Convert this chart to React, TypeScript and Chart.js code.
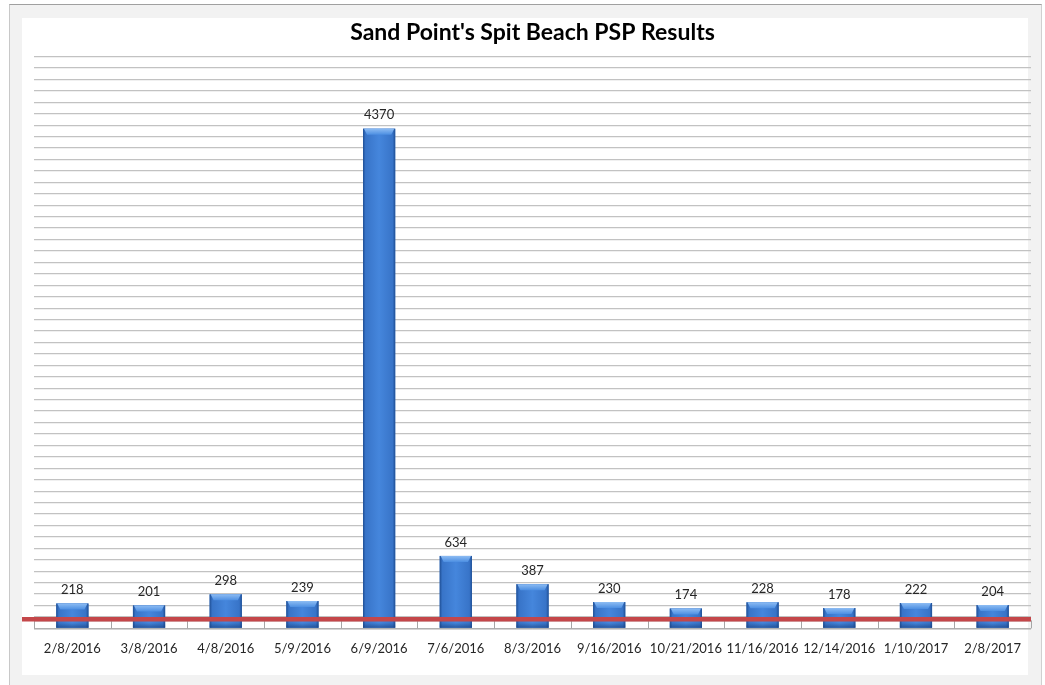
import { useEffect, useRef } from 'react';
import { Chart, registerables } from 'chart.js';

Chart.register(...registerables);

const TITLE = "Sand Point's Spit Beach PSP Results";
const DATES = [
  '2/8/2016', '3/8/2016', '4/8/2016', '5/9/2016', '6/9/2016', '7/6/2016', '8/3/2016',
  '9/16/2016', '10/21/2016', '11/16/2016', '12/14/2016', '1/10/2017', '2/8/2017',
];
const PSP = [218, 201, 298, 239, 4370, 634, 387, 230, 174, 228, 178, 222, 204];
const LIMIT = 80;
const Y_MAX = 5000;
const Y_STEP = 100;

const FONT = 'Lato, "Open Sans", sans-serif';

const floorPlugin = {
  id: 'floor',
  beforeDatasetsDraw(chart: any) {
    const { ctx, chartArea, scales } = chart;
    const base = scales.y.getPixelForValue(0);
    const top = base - 8;
    const n = DATES.length;
    const step = scales.x.getPixelForValue(1) - scales.x.getPixelForValue(0);
    ctx.save();
    ctx.strokeStyle = '#a6a6a6';
    ctx.lineWidth = 1;
    ctx.beginPath();
    ctx.moveTo(chartArea.left, top + 0.5);
    ctx.lineTo(chartArea.right, top + 0.5);
    ctx.moveTo(chartArea.left, base + 0.5);
    ctx.lineTo(chartArea.right, base + 0.5);
    for (let i = 0; i <= n; i++) {
      const xp = i < n ? scales.x.getPixelForValue(i) - step / 2 : chartArea.right;
      const xr = Math.round(xp) + 0.5;
      ctx.moveTo(xr, top);
      ctx.lineTo(xr, base);
    }
    ctx.stroke();
    ctx.restore();
  },
};

const barStylePlugin = {
  id: 'barStyle',
  afterDatasetsDraw(chart: any) {
    const { ctx, scales, chartArea } = chart;
    const meta = chart.getDatasetMeta(0);
    ctx.save();
    meta.data.forEach((el: any) => {
      const { x, y, base, width } = el.getProps(['x', 'y', 'base', 'width'], true);
      const l = x - width / 2;
      const r = x + width / 2;
      const h = base - y;
      const g = ctx.createLinearGradient(l, 0, r, 0);
      g.addColorStop(0, '#1f4f95');
      g.addColorStop(0.08, '#3874c8');
      g.addColorStop(0.5, '#4586dc');
      g.addColorStop(0.92, '#3874c8');
      g.addColorStop(1, '#1f4f95');
      ctx.fillStyle = g;
      ctx.fillRect(l, y, width, h);
      const bev = Math.min(6, h / 3);
      const tg = ctx.createLinearGradient(0, y, 0, y + bev);
      tg.addColorStop(0, '#8dbcf3');
      tg.addColorStop(1, '#4d8fe2');
      ctx.fillStyle = tg;
      ctx.beginPath();
      ctx.moveTo(l + 1, y);
      ctx.lineTo(r - 1, y);
      ctx.lineTo(r - 4, y + bev);
      ctx.lineTo(l + 4, y + bev);
      ctx.closePath();
      ctx.fill();
      const bg = ctx.createLinearGradient(0, base - 5, 0, base);
      bg.addColorStop(0, 'rgba(25,60,120,0)');
      bg.addColorStop(1, 'rgba(25,60,120,0.6)');
      ctx.fillStyle = bg;
      ctx.fillRect(l, base - 5, width, 5);
    });

    // regulatory limit line
    const ly = scales.y.getPixelForValue(LIMIT);
    ctx.strokeStyle = '#c4474a';
    ctx.lineWidth = 4.5;
    ctx.beginPath();
    ctx.moveTo(chartArea.left - 12, ly);
    ctx.lineTo(chartArea.right, ly);
    ctx.stroke();

    // value labels
    ctx.fillStyle = '#262626';
    ctx.font = `13px ${FONT}`;
    ctx.textAlign = 'center';
    ctx.textBaseline = 'bottom';
    meta.data.forEach((el: any, i: number) => {
      const { x, y } = el.getProps(['x', 'y'], true);
      ctx.fillText(String(PSP[i]), x, y - 7);
    });
    ctx.restore();
  },
};

export default function App() {
  const ref = useRef<HTMLCanvasElement | null>(null);

  useEffect(() => {
    if (!ref.current) return;
    const chart = new Chart(ref.current, {
      type: 'bar',
      data: {
        labels: DATES,
        datasets: [
          {
            label: 'PSP',
            data: PSP,
            backgroundColor: '#3a78cc',
            borderWidth: 0,
            categoryPercentage: 1,
            barPercentage: 0.42,
          },
        ],
      },
      options: {
        animation: false,
        responsive: false,
        maintainAspectRatio: false,
        devicePixelRatio: 1,
        layout: { padding: { left: 34, right: 14, top: 19, bottom: 15 } },
        plugins: {
          legend: { display: false },
          tooltip: { enabled: false },
          title: {
            display: true,
            text: TITLE,
            color: '#000000',
            font: { family: FONT, size: 23, weight: 'bold' },
            padding: { top: 0, bottom: 10 },
          },
        },
        scales: {
          x: {
            grid: { display: false, drawTicks: false },
            border: { display: false },
            ticks: {
              color: '#262626',
              font: { family: FONT, size: 13 },
              padding: 13,
              maxRotation: 0,
              autoSkip: false,
            },
          },
          y: {
            min: 0,
            max: Y_MAX,
            grid: { color: '#c2c2c2', lineWidth: 1.3, drawTicks: false },
            border: { display: false },
            ticks: { display: false, stepSize: Y_STEP },
          },
        },
      },
      plugins: [floorPlugin, barStylePlugin],
    });
    return () => chart.destroy();
  }, []);

  return (
    <div style={{ position: 'absolute', left: 0, top: 0, width: 1045, height: 685, overflow: 'hidden', background: '#ffffff' }}>
      <div
        style={{
          position: 'absolute',
          left: 9,
          top: 4,
          width: 1031,
          height: 700,
          background: '#f2f2f2',
          borderTop: '1px solid #a0a0a0',
          borderLeft: '1px solid #c8c8c8',
          borderRight: '1px solid #d0d0d0',
        }}
      />
      <div style={{ position: 'absolute', left: 22, top: 18, width: 1006, height: 657, background: '#ffffff' }} />
      <canvas ref={ref} width={1045} height={685} style={{ position: 'absolute', left: 0, top: 0, width: 1045, height: 685 }} />
    </div>
  );
}
